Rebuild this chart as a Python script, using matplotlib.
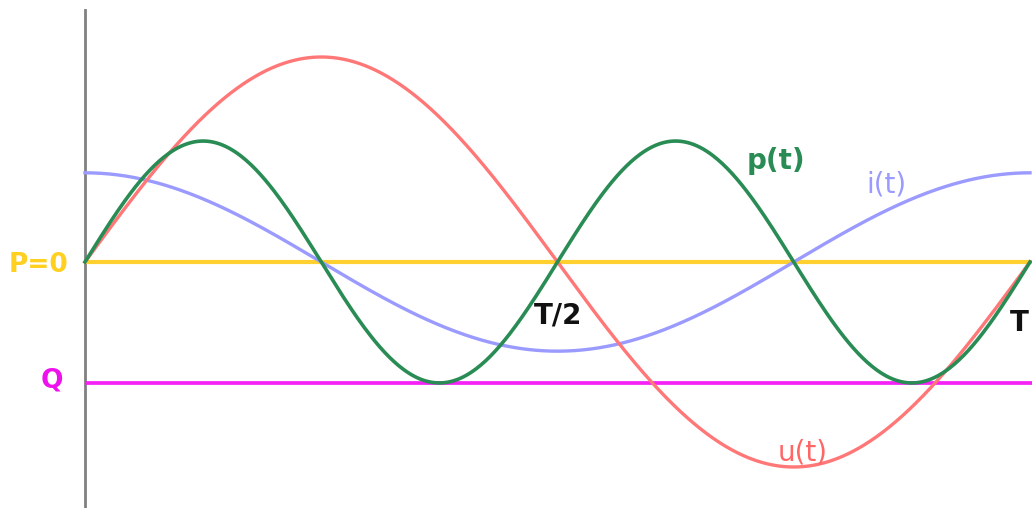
import numpy as np
import matplotlib.pyplot as plt

# amplitudes (units: u amplitude = 1)
u_amp = 1.0
i_amp = 0.435
p_amp = 0.59
q_level = -0.59          # reactive-power line "Q"
p_level = 0.0            # mean power line "P=0"

t = np.linspace(0, 1, 600)   # one period T
w = 2 * np.pi
u = u_amp * np.sin(w * t)
i = i_amp * np.cos(w * t)
p = p_amp * np.sin(2 * w * t)

fig = plt.figure(figsize=(10.32, 5.08), dpi=100)
ax = fig.add_axes([85 / 1032, 0, 945 / 1032, 1])
ax.set_xlim(0, 1)
ax.set_ylim(-1.2, 1.278)
ax.axis('off')

ax.axvline(0, ymin=0, ymax=0.98, color='#808080', linewidth=2.0, clip_on=False)
ax.plot([0, 1.003], [p_level, p_level], color='#ffd030', linewidth=3.0, clip_on=False, solid_capstyle='butt')
ax.plot([0, 1.003], [q_level, q_level], color='#f522f5', linewidth=2.7, clip_on=False, solid_capstyle='butt')
ax.plot(t, i, color='#9a9aff', linewidth=2.4, clip_on=False)
ax.plot(t, u, color='#ff7777', linewidth=2.4, clip_on=False)
ax.plot(t, p, color='#2a8c55', linewidth=2.6, clip_on=False)

fs = 20
ax.text(-0.0497, -0.015, 'P=0', color='#ffd020', fontsize=19, fontweight='bold', ha='center', va='center')
ax.text(-0.035, -0.576, 'Q', color='#ee11ee', fontsize=19, fontweight='bold', ha='center', va='center')
ax.text(0.731, 0.493, 'p(t)', color='#2a8c55', fontsize=fs, fontweight='bold', ha='center', va='center')
ax.text(0.848, 0.38, 'i(t)', color='#9a9aff', fontsize=fs, ha='center', va='center')
ax.text(0.5005, -0.263, 'T/2', color='#111111', fontsize=fs, fontweight='bold', ha='center', va='center')
ax.text(0.979, -0.298, 'T', color='#111111', fontsize=fs, fontweight='bold', ha='left', va='center', clip_on=False)
ax.text(0.759, -0.927, 'u(t)', color='#ff6666', fontsize=fs, ha='center', va='center')

fig.savefig('out.png', dpi=100)
